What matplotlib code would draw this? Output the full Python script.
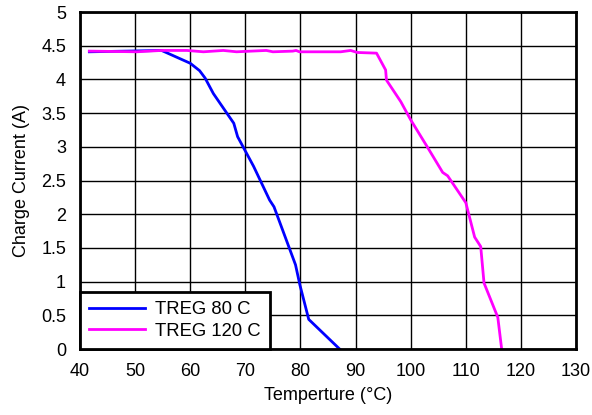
import matplotlib
matplotlib.use("Agg")
import matplotlib.pyplot as plt

plt.rcParams['font.family'] = ['Liberation Sans', 'DejaVu Sans']

# TREG 80 C
t80 = [41.7, 54.8, 60.0, 61.7, 62.7, 64.2, 67.9, 68.6, 71.5, 74.4, 75.2, 79.1, 79.9, 81.5, 87.1]
i80 = [4.41, 4.43, 4.24, 4.13, 4.02, 3.79, 3.35, 3.15, 2.71, 2.21, 2.11, 1.25, 0.95, 0.44, 0.0]

# TREG 120 C
t120 = [41.7, 50.3, 54.8, 59.4, 62.4, 66.0, 68.4, 73.8, 75.0, 78.6, 79.2, 79.8, 87.3, 89.1, 90.3,
        93.8, 95.45, 95.6, 98.2, 100.0, 103.0, 105.8, 106.7, 110.0, 111.6, 112.7, 113.3, 115.8, 116.5]
i120 = [4.42, 4.41, 4.43, 4.43, 4.41, 4.43, 4.41, 4.43, 4.41, 4.42, 4.43, 4.41, 4.41, 4.43, 4.40,
        4.39, 4.14, 3.99, 3.67, 3.40, 3.00, 2.62, 2.57, 2.17, 1.66, 1.52, 0.98, 0.47, 0.0]

xticks = list(range(40, 131, 10))
yticks = [0, 0.5, 1, 1.5, 2, 2.5, 3, 3.5, 4, 4.5, 5]
ylabels = ['0', '0.5', '1', '1.5', '2', '2.5', '3', '3.5', '4', '4.5', '5']

fig = plt.figure(figsize=(5.92, 4.15), dpi=100)
ax = fig.add_axes([0.1351, 0.159, 0.838, 0.812])

ax.plot(t80, i80, color='#0000ff', lw=2, label='TREG 80 C')
ax.plot(t120, i120, color='#ff00ff', lw=2, label='TREG 120 C')

ax.set_xlim(40, 130)
ax.set_ylim(0, 5)
ax.set_xticks(xticks)
ax.set_yticks(yticks)
ax.set_yticklabels(ylabels)
ax.tick_params(length=0, labelsize=13)
ax.tick_params(axis='x', pad=10)
ax.tick_params(axis='y', pad=10)
ax.grid(True, color='black', lw=1)
ax.set_axisbelow(True)
for s in ax.spines.values():
    s.set_linewidth(2)

ax.set_xlabel('Temperture (°C)', fontsize=13, labelpad=5)
ax.set_ylabel('Charge Current (A)', fontsize=13, labelpad=8)

leg = ax.legend(loc='lower left', fontsize=13.3, handlelength=3.0, borderaxespad=0,
                fancybox=False, framealpha=1, edgecolor='black', borderpad=0.5,
                labelspacing=0.25, handletextpad=0.55)
leg.get_frame().set_linewidth(2)

fig.savefig('out.png', dpi=100)
